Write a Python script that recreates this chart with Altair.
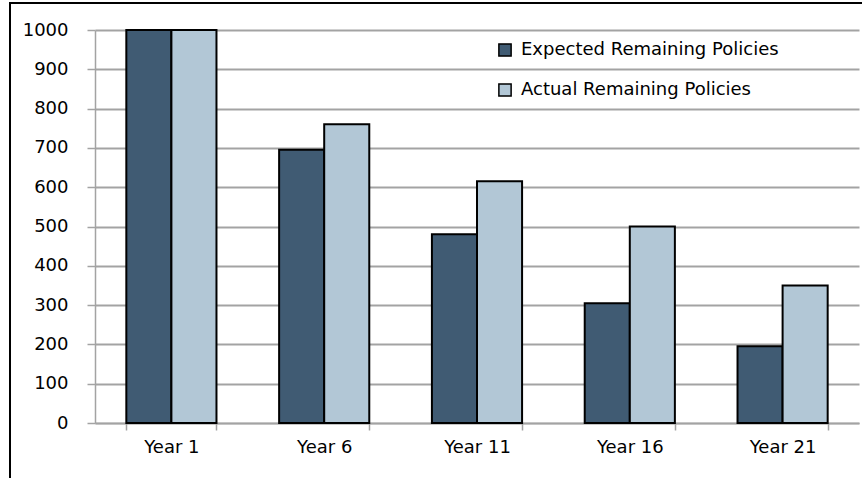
import altair as alt
import pandas as pd

# Remaining policies per survey year
categories = ["Year 1", "Year 6", "Year 11", "Year 16", "Year 21"]
series_names = ["Expected Remaining Policies", "Actual Remaining Policies"]
expected = [1000, 695, 480, 305, 195]
actual = [1000, 760, 615, 500, 350]
y_ticks = [0, 100, 200, 300, 400, 500, 600, 700, 800, 900, 1000]
bar_colors = ["#405B73", "#B2C7D6"]

rows = []
for cat, e, a in zip(categories, expected, actual):
    rows.append({"year": cat, "series": series_names[0], "value": e})
    rows.append({"year": cat, "series": series_names[1], "value": a})
df = pd.DataFrame(rows)

FONT = "DejaVu Sans"
GRID = "#a3a3a3"

bars = alt.Chart(df).mark_bar(stroke="black", strokeWidth=2).encode(
    x=alt.X(
        "year:N",
        sort=categories,
        scale=alt.Scale(paddingInner=0.41, paddingOuter=0.205),
        axis=alt.Axis(
            title=None,
            labelAngle=0,
            labelFont=FONT,
            labelFontSize=18,
            labelColor="black",
            labelPadding=8,
            tickBand="extent",
            tickSize=7,
            tickColor=GRID,
            tickWidth=1.5,
            domainColor=GRID,
            domainWidth=1.5,
            grid=False,
        ),
    ),
    xOffset=alt.XOffset(
        "series:N",
        sort=series_names,
        scale=alt.Scale(paddingInner=0, paddingOuter=0),
    ),
    y=alt.Y(
        "value:Q",
        scale=alt.Scale(domain=[0, 1000], nice=False),
        axis=alt.Axis(
            title=None,
            values=y_ticks,
            format="d",
            labelFont=FONT,
            labelFontSize=18,
            labelColor="black",
            labelPadding=19,
            tickSize=8,
            tickColor=GRID,
            tickWidth=1.5,
            domainColor=GRID,
            domainWidth=1.5,
            grid=True,
            gridColor=GRID,
            gridWidth=2,
        ),
    ),
    color=alt.Color(
        "series:N",
        sort=series_names,
        scale=alt.Scale(domain=series_names, range=bar_colors),
        legend=alt.Legend(
            title=None,
            orient="none",
            legendX=401,
            legendY=11,
            padding=0,
            symbolType="square",
            symbolSize=150,
            symbolStrokeColor="black",
            symbolStrokeWidth=1.5,
            labelFont=FONT,
            labelFontSize=18,
            labelColor="black",
            labelOffset=7,
            labelLimit=400,
            rowPadding=20,
        ),
    ),
)

# Outer chart frame
frame = alt.Chart(pd.DataFrame({"k": [0]})).mark_rect(
    fillOpacity=0, stroke="black", strokeWidth=2, clip=False
).encode(
    x=alt.value(-85), x2=alt.value(820), y=alt.value(-27), y2=alt.value(500)
)

chart = (
    alt.layer(frame, bars)
    .properties(
        width=764,
        height=393,
        padding={"left": 95, "top": 30, "right": 3, "bottom": 55},
        autosize=alt.AutoSizeParams(type="none"),
        background="white",
    )
    .configure_view(strokeWidth=0)
)

chart.save("out.html", embed_options={"renderer": "svg", "actions": False})
